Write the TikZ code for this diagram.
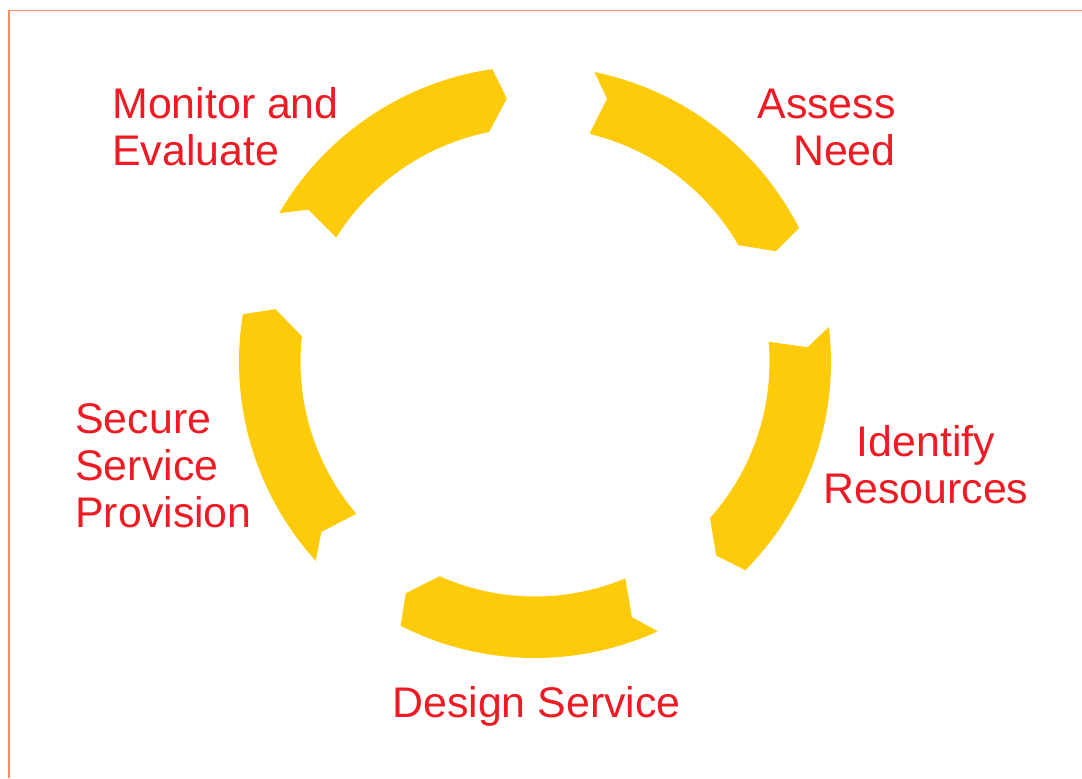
\documentclass[tikz,border=0pt]{standalone}
\usepackage{fontspec}
\setmainfont{Liberation Sans}
\definecolor{ringyellow}{RGB}{254,203,10}
\definecolor{labelred}{RGB}{237,28,36}
\definecolor{frameorange}{RGB}{242,145,95}
\begin{document}
\begin{tikzpicture}[x=0.02cm,y=0.02cm,
  ring/.style={fill=ringyellow},
  steplabel/.style={text=labelred,inner sep=0pt,
    font=\fontsize{24.4}{27}\selectfont},
  frameline/.style={draw=frameorange,line width=0.8pt}]
\useasboundingbox (0,0) rectangle (1082,778);
% thin frame along the top and left edges
\coordinate (ftl) at (9,767.5);
\coordinate (ftr) at (1082,767.5);
\coordinate (fbl) at (9,0);
\draw[frameline] (ftr) -- (ftl) -- (fbl);
% five arrow segments of the cycle, running clockwise;
% each starts at angle \a with a notched tail and ends in a point
\begin{scope}[shift={(535,416)}]
\foreach \a in {149.8,78.4,6.8,-65.5,-137.8}{
  \fill[ring] (\a:296) arc[start angle=\a, end angle=\a-51.5, radius=296]
    -- ({\a-53.7}:265) -- ({\a-48.5}:234.5)
    arc[start angle=\a-48.5, end angle=\a-1.85, radius=234.5]
    -- ({\a-3.7}:273) -- cycle;
}
\end{scope}
% step labels
\node[steplabel,anchor=base west,align=left] (monitor) at (112,612.3) {Monitor and\\Evaluate};
\node[steplabel,anchor=base east,align=right] (assess) at (896,612) {Assess\\Need};
\node[steplabel,anchor=base,align=center] (identify) at (926,274) {Identify\\Resources};
\node[steplabel,anchor=base] (design) at (536.5,60.3) {Design Service};
\node[steplabel,anchor=base west,align=left] (secure) at (75,250) {Secure\\Service\\Provision};
\end{tikzpicture}
\end{document}
